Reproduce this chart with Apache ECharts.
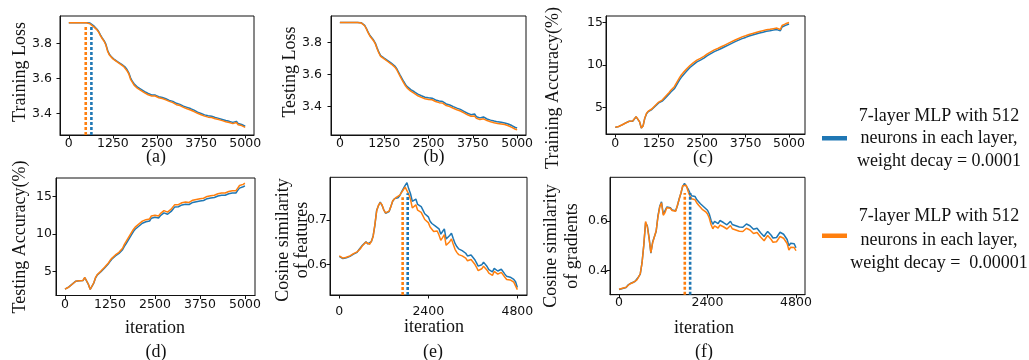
<!DOCTYPE html>
<html><head><meta charset="utf-8">
<script src="https://cdn.jsdelivr.net/npm/echarts@6/dist/echarts.min.js"></script>
<style>html,body{margin:0;padding:0;background:#fff}#c{width:1029px;height:360px}</style>
</head><body><div id="c"></div>
<script>
// ---------- data ----------
const seriesNames = [
  '7-layer MLP with 512\nneurons in each layer,\nweight decay = 0.0001',
  '7-layer MLP with 512\nneurons in each layer,\nweight decay =  0.00001'
];
const colors = ['#1f77b4', '#ff7f0e'];
const iter5000 = Array.from({length: 101}, (_, i) => i * 50);
const iter4800 = Array.from({length: 101}, (_, i) => i * 48);
const ticks5000 = [0, 1250, 2500, 3750, 5000];
const ticks4800 = [0, 2400, 4800];
const lossTicks = [3.4, 3.6, 3.8];
const accTicks = [5, 10, 15];
const featTicks = [0.6, 0.7];
const gradTicks = [0.4, 0.6];

const trainLossBlue = [3.918,3.918,3.918,3.918,3.917,3.918,3.918,3.918,3.918,3.917,
3.918,3.918,3.916,3.912,3.901,3.890,3.880,3.866,3.847,3.830,
3.815,3.795,3.760,3.737,3.725,3.714,3.706,3.699,3.693,3.686,
3.680,3.672,3.664,3.650,3.631,3.603,3.583,3.569,3.558,3.549,
3.543,3.537,3.531,3.524,3.519,3.513,3.511,3.505,3.506,3.504,
3.500,3.495,3.498,3.490,3.487,3.483,3.481,3.474,3.477,3.468,
3.462,3.457,3.461,3.451,3.448,3.441,3.442,3.434,3.436,3.427,
3.424,3.418,3.416,3.407,3.406,3.399,3.399,3.391,3.392,3.386,
3.393,3.383,3.382,3.376,3.378,3.371,3.373,3.365,3.366,3.359,
3.360,3.354,3.355,3.348,3.349,3.354,3.342,3.338,3.336,3.330,3.326];
const trainLossOrange = [3.918,3.918,3.917,3.918,3.918,3.917,3.918,3.918,3.917,3.918,
3.917,3.915,3.911,3.904,3.895,3.886,3.877,3.862,3.842,3.826,
3.812,3.790,3.754,3.733,3.722,3.711,3.703,3.697,3.690,3.683,
3.677,3.668,3.661,3.643,3.626,3.594,3.578,3.561,3.553,3.542,
3.538,3.530,3.527,3.517,3.514,3.506,3.506,3.499,3.500,3.499,
3.494,3.489,3.492,3.484,3.480,3.477,3.474,3.468,3.470,3.461,
3.456,3.449,3.455,3.444,3.441,3.434,3.435,3.426,3.427,3.419,
3.417,3.410,3.409,3.400,3.399,3.392,3.392,3.384,3.385,3.378,
3.386,3.376,3.375,3.369,3.371,3.364,3.366,3.358,3.359,3.352,
3.353,3.347,3.348,3.341,3.342,3.347,3.335,3.331,3.330,3.324,3.320];

const testLossBlue = [3.924,3.924,3.923,3.924,3.924,3.923,3.924,3.924,3.924,3.923,
3.924,3.924,3.922,3.916,3.906,3.886,3.862,3.842,3.828,3.814,
3.795,3.765,3.738,3.717,3.708,3.701,3.694,3.686,3.678,3.670,
3.662,3.652,3.637,3.616,3.595,3.575,3.555,3.537,3.523,3.514,
3.504,3.495,3.491,3.480,3.476,3.468,3.466,3.460,3.457,3.460,
3.453,3.446,3.451,3.441,3.440,3.435,3.433,3.426,3.430,3.419,
3.415,3.408,3.408,3.400,3.398,3.392,3.389,3.384,3.381,3.372,
3.369,3.360,3.357,3.349,3.348,3.341,3.352,3.335,3.333,3.328,
3.328,3.334,3.323,3.321,3.316,3.314,3.309,3.308,3.303,3.303,
3.299,3.300,3.296,3.296,3.305,3.290,3.287,3.280,3.275,3.268,3.265];
const testLossOrange = [3.924,3.924,3.923,3.924,3.924,3.923,3.924,3.924,3.924,3.923,
3.924,3.923,3.921,3.914,3.903,3.882,3.858,3.838,3.824,3.810,
3.790,3.760,3.733,3.712,3.703,3.696,3.689,3.680,3.672,3.664,
3.655,3.645,3.630,3.608,3.587,3.566,3.546,3.528,3.514,3.505,
3.495,3.486,3.481,3.470,3.466,3.458,3.456,3.450,3.447,3.450,
3.443,3.436,3.441,3.431,3.430,3.425,3.423,3.416,3.420,3.409,
3.405,3.398,3.398,3.390,3.388,3.382,3.379,3.374,3.371,3.362,
3.359,3.350,3.347,3.339,3.338,3.331,3.339,3.325,3.323,3.318,
3.318,3.322,3.313,3.311,3.306,3.304,3.299,3.298,3.293,3.293,
3.289,3.290,3.286,3.286,3.293,3.279,3.276,3.269,3.264,3.257,3.254];

const trainAccBlue = [2.64,2.71,2.75,2.79,2.94,3.06,3.16,3.25,3.36,3.41,
3.37,3.46,3.88,4.03,3.28,2.57,2.82,3.72,4.25,4.50,
4.60,4.74,4.92,5.14,5.36,5.52,5.58,5.72,5.90,6.14,
6.33,6.56,6.80,6.98,7.18,7.40,7.88,8.22,8.52,8.78,
8.98,9.24,9.44,9.68,9.82,10.02,10.10,10.34,10.40,10.55,
10.66,10.78,10.90,11.08,11.14,11.32,11.40,11.55,11.60,11.72,
11.82,11.92,12.00,12.12,12.20,12.32,12.40,12.52,12.60,12.72,
12.80,12.90,12.95,13.08,13.12,13.22,13.28,13.38,13.42,13.50,
13.54,13.62,13.66,13.74,13.77,13.84,13.86,13.94,13.95,14.00,
14.02,14.08,14.06,14.14,14.12,14.00,14.45,14.52,14.64,14.68,14.80];
const trainAccOrange = [2.65,2.70,2.74,2.80,2.95,3.05,3.15,3.26,3.35,3.42,
3.38,3.45,3.90,4.05,3.30,2.55,2.80,3.75,4.30,4.55,
4.65,4.80,5.00,5.22,5.45,5.62,5.70,5.85,6.05,6.30,
6.50,6.75,7.00,7.20,7.42,7.65,8.15,8.50,8.80,9.05,
9.25,9.50,9.68,9.92,10.05,10.25,10.32,10.55,10.60,10.75,
10.85,10.98,11.08,11.28,11.32,11.52,11.58,11.75,11.78,11.92,
12.00,12.12,12.18,12.32,12.38,12.52,12.58,12.72,12.78,12.92,
12.98,13.10,13.12,13.28,13.30,13.42,13.45,13.57,13.58,13.68,
13.70,13.80,13.82,13.92,13.93,14.02,14.02,14.12,14.10,14.18,
14.18,14.25,14.22,14.32,14.28,14.15,14.62,14.70,14.82,14.85,14.98];

const testAccBlue = [2.64,2.76,2.91,3.04,3.31,3.54,3.71,3.74,3.77,3.75,
3.79,4.18,4.28,3.28,2.62,2.74,3.45,4.15,4.55,4.80,
4.98,5.18,5.46,5.70,6.00,6.32,6.62,6.86,7.06,7.26,
7.40,7.62,7.90,8.35,8.72,9.12,9.52,9.92,10.32,10.62,
10.82,11.02,11.22,11.42,11.52,11.62,11.48,11.72,12.10,12.30,
12.22,12.02,12.12,12.42,12.50,12.80,12.90,12.62,12.52,13.00,
13.30,13.60,13.70,13.62,13.75,13.86,13.80,13.95,14.00,13.92,
14.10,14.20,14.15,14.30,14.25,14.40,14.50,14.45,14.60,14.70,
14.65,14.80,14.90,14.85,15.00,15.05,15.00,15.15,15.20,15.15,
15.30,15.35,15.30,15.45,15.50,15.45,15.80,16.10,16.18,16.28,16.40];
const testAccOrange = [2.65,2.75,2.90,3.05,3.30,3.55,3.70,3.75,3.78,3.74,
3.80,4.20,4.30,3.30,2.60,2.72,3.50,4.20,4.60,4.85,
5.05,5.25,5.55,5.80,6.10,6.45,6.75,7.00,7.20,7.40,
7.55,7.80,8.10,8.60,9.00,9.40,9.80,10.20,10.60,10.90,
11.10,11.30,11.50,11.70,11.80,11.90,11.75,12.00,12.40,12.60,
12.50,12.30,12.40,12.70,12.80,13.10,13.20,12.90,12.80,13.30,
13.60,13.90,14.00,13.90,14.05,14.15,14.10,14.25,14.30,14.20,
14.40,14.50,14.45,14.60,14.55,14.70,14.80,14.75,14.90,15.00,
14.95,15.10,15.20,15.15,15.30,15.35,15.30,15.45,15.50,15.45,
15.60,15.65,15.60,15.75,15.80,15.75,16.10,16.45,16.50,16.60,16.75];

const featSimBlue = [0.618,0.617,0.613,0.614,0.615,0.615,0.618,0.622,0.623,0.624,
0.627,0.633,0.635,0.643,0.645,0.651,0.646,0.646,0.651,0.664,
0.688,0.722,0.732,0.740,0.733,0.723,0.715,0.714,0.719,0.731,
0.742,0.748,0.750,0.750,0.755,0.763,0.766,0.778,0.784,0.770,
0.759,0.742,0.746,0.747,0.735,0.733,0.730,0.722,0.714,0.711,
0.707,0.697,0.692,0.688,0.686,0.689,0.680,0.668,0.674,0.680,
0.657,0.660,0.665,0.670,0.658,0.647,0.640,0.635,0.633,0.631,
0.628,0.625,0.619,0.617,0.621,0.616,0.611,0.604,0.596,0.594,
0.599,0.605,0.606,0.595,0.588,0.584,0.583,0.591,0.592,0.585,
0.584,0.589,0.585,0.578,0.573,0.569,0.571,0.569,0.566,0.561,0.548];
const featSimOrange = [0.619,0.616,0.614,0.613,0.616,0.614,0.619,0.621,0.624,0.623,
0.628,0.632,0.636,0.642,0.646,0.650,0.647,0.645,0.652,0.662,
0.690,0.720,0.733,0.739,0.734,0.722,0.716,0.713,0.720,0.730,
0.743,0.747,0.751,0.749,0.756,0.762,0.766,0.774,0.778,0.758,
0.746,0.727,0.731,0.734,0.722,0.719,0.717,0.709,0.701,0.698,
0.694,0.684,0.679,0.674,0.672,0.675,0.666,0.654,0.660,0.667,
0.643,0.646,0.651,0.657,0.645,0.634,0.627,0.622,0.620,0.619,
0.617,0.614,0.608,0.606,0.611,0.606,0.601,0.594,0.586,0.584,
0.590,0.596,0.598,0.587,0.580,0.576,0.575,0.584,0.585,0.578,
0.577,0.582,0.578,0.571,0.566,0.562,0.565,0.563,0.560,0.556,0.543];

const gradSimBlue = [0.325,0.325,0.329,0.330,0.333,0.342,0.346,0.351,0.352,0.357,
0.361,0.375,0.386,0.432,0.502,0.592,0.580,0.532,0.470,0.515,
0.514,0.558,0.620,0.658,0.676,0.626,0.630,0.655,0.662,0.652,
0.643,0.644,0.640,0.660,0.688,0.710,0.738,0.750,0.746,0.728,
0.713,0.700,0.707,0.697,0.684,0.676,0.668,0.660,0.655,0.650,
0.642,0.627,0.602,0.586,0.598,0.594,0.589,0.601,0.605,0.593,
0.590,0.584,0.591,0.598,0.585,0.577,0.580,0.585,0.575,0.569,
0.574,0.578,0.587,0.591,0.580,0.575,0.566,0.563,0.570,0.565,
0.552,0.545,0.537,0.548,0.557,0.551,0.542,0.531,0.524,0.533,
0.540,0.554,0.557,0.546,0.538,0.525,0.500,0.510,0.517,0.508,0.492];
const gradSimOrange = [0.326,0.324,0.330,0.329,0.334,0.341,0.347,0.350,0.353,0.356,
0.362,0.374,0.388,0.430,0.505,0.597,0.575,0.528,0.472,0.512,
0.511,0.560,0.615,0.655,0.672,0.622,0.633,0.652,0.660,0.650,
0.641,0.646,0.638,0.662,0.686,0.712,0.740,0.748,0.742,0.718,
0.701,0.688,0.694,0.684,0.671,0.662,0.655,0.646,0.641,0.636,
0.627,0.611,0.585,0.568,0.580,0.576,0.571,0.583,0.588,0.576,
0.572,0.567,0.574,0.581,0.568,0.560,0.563,0.568,0.558,0.552,
0.557,0.561,0.570,0.574,0.563,0.558,0.549,0.546,0.553,0.548,
0.535,0.528,0.520,0.531,0.541,0.534,0.525,0.514,0.507,0.516,
0.523,0.537,0.541,0.530,0.522,0.509,0.483,0.494,0.501,0.493,0.480];

// dotted marker lines: [blue, orange]
const trainLossMarkIter = [640, 480];
const trainLossMarkTop = [3.905, 3.905];
const featMarkIter = [1844, 1708];
const featMarkTop = [0.760, 0.751];
const gradMarkIter = [1929, 1784];
const gradMarkTop = [0.711, 0.711];

// ---------- layout ----------
const SERIF = '"Liberation Serif", "Times New Roman", serif';
const SANS = '"DejaVu Sans", sans-serif';
const panels = [
  {grid:{left:60,top:16,width:194,height:119}, xr:[-250,5250], xt:ticks5000, xm:2,
   yr:[3.276,3.956], yt:lossTicks, ym:8, dec:1, iters:iter5000, data:[trainLossBlue,trainLossOrange],
   mark:{iters:trainLossMarkIter, tops:trainLossMarkTop}},
  {grid:{left:331,top:16,width:195,height:119}, xr:[-250,5250], xt:ticks5000, xm:2,
   yr:[3.221,3.964], yt:lossTicks, ym:9, dec:1, iters:iter5000, data:[testLossBlue,testLossOrange]},
  {grid:{left:606,top:16,width:199,height:118}, xr:[-267,5460], xt:ticks5000, xm:3,
   yr:[1.86,15.74], yt:accTicks, ym:3, dec:0, iters:iter5000, data:[trainAccBlue,trainAccOrange]},
  {grid:{left:56,top:178,width:199,height:117.5}, xr:[-250,5280], xt:ticks5000, xm:3,
   yr:[1.8,17.45], yt:accTicks, ym:4, dec:0, iters:iter5000, data:[testAccBlue,testAccOrange]},
  {grid:{left:330,top:177.3,width:197,height:117.7}, xr:[-250,5060], xt:ticks4800, xm:10,
   yr:[0.531,0.796], yt:featTicks, ym:3, dec:1, iters:iter4800, data:[featSimBlue,featSimOrange],
   mark:{iters:featMarkIter, tops:featMarkTop}},
  {grid:{left:610,top:177.3,width:195,height:117.4}, xr:[-245,5045], xt:ticks4800, xm:2,
   yr:[0.304,0.774], yt:gradTicks, ym:2, dec:1, iters:iter4800, data:[gradSimBlue,gradSimOrange],
   mark:{iters:gradMarkIter, tops:gradMarkTop}}
];

const grids = [], xAxes = [], yAxes = [], series = [];
panels.forEach((p, k) => {
  grids.push(Object.assign({show:true, borderColor:'#111', borderWidth:1, backgroundColor:'transparent'}, p.grid));
  const tick = {show:true, inside:false, length:3.5, lineStyle:{color:'#111', width:1}};
  const line = {show:true, onZero:false, lineStyle:{color:'#111', width:1}};
  xAxes.push({type:'value', gridIndex:k, min:p.xr[0], max:p.xr[1], position:'bottom',
    axisLine:line, splitLine:{show:false},
    axisTick:Object.assign({customValues:p.xt}, tick),
    axisLabel:{customValues:p.xt, margin:p.xm, color:'#111', fontFamily:SANS, fontSize:12.5,
      formatter: v => String(Math.round(v))}});
  yAxes.push({type:'value', gridIndex:k, min:p.yr[0], max:p.yr[1], position:'left',
    axisLine:line, splitLine:{show:false},
    axisTick:Object.assign({customValues:p.yt}, tick),
    axisLabel:{customValues:p.yt, margin:p.ym, color:'#111', fontFamily:SANS, fontSize:12.5,
      formatter: v => Number(v).toFixed(p.dec)}});
  p.data.forEach((vals, s) => {
    series.push({type:'line', name:seriesNames[s], xAxisIndex:k, yAxisIndex:k, showSymbol:false, symbol:'none',
      silent:true, animation:false, z:2+s,
      lineStyle:{color:colors[s], width:1.5},
      data: vals.map((v, i) => [p.iters[i], v])});
  });
  if (p.mark) {
    p.mark.iters.forEach((it, s) => {
      series.push({type:'line', xAxisIndex:k, yAxisIndex:k, showSymbol:false, symbol:'none', silent:true,
        animation:false, z:5,
        lineStyle:{color:colors[s], width:2.6, type:[3,2], cap:'butt'},
        data:[[it, p.yr[0]], [it, p.mark.tops[s]]]});
    });
  }
});

const txt = (text, x, y, rot, extra) => ({type:'text', x, y, rotation: rot ? Math.PI/2 : 0, silent:true,
  style:Object.assign({text, fill:'#111', fontFamily:SERIF, fontSize:18, align:'center', verticalAlign:'middle'}, extra||{})});

const graphic = [
  txt('Training Loss', 20, 72, true),
  txt('Testing Loss', 290, 72, true),
  txt('Training Accuracy(%)', 553, 88, true),
  txt('Testing Accuracy(%)', 20, 237, true),
  txt('Cosine similarity\nof features', 293, 240, true, {lineHeight:19}),
  txt('Cosine similarity\nof gradients', 562, 246, true, {lineHeight:21}),
  txt('(a)', 156, 157), txt('(b)', 434, 157), txt('(c)', 703, 158),
  txt('iteration', 155, 328), txt('iteration', 434, 327), txt('iteration', 704, 328),
  txt('(d)', 156, 352), txt('(e)', 433, 352), txt('(f)', 704, 352),
  {type:'rect', shape:{x:822, y:136, width:25, height:4.5}, style:{fill:colors[0]}, silent:true},
  {type:'rect', shape:{x:822, y:233.5, width:25, height:4.5}, style:{fill:colors[1]}, silent:true},
  txt(seriesNames[0], 939, 138.5, false, {lineHeight:22.5}),
  txt(seriesNames[1], 939, 240, false, {lineHeight:23.3})
];

const chart = echarts.init(document.getElementById('c'), null, {renderer:'canvas'});
chart.setOption({animation:false, backgroundColor:'#fff', grid:grids, xAxis:xAxes, yAxis:yAxes, series, graphic});
</script></body></html>
